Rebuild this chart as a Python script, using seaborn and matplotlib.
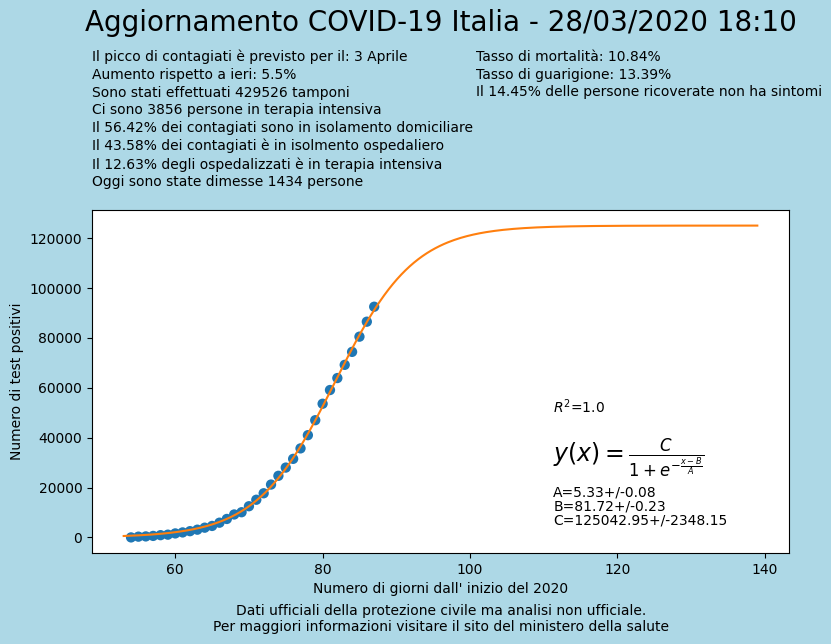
import numpy as np
import pandas as pd
import seaborn as sns
import matplotlib
matplotlib.use("Agg")
import matplotlib.pyplot as plt

# giorni dall'inizio del 2020 e casi totali
giorni = list(range(54, 88))
casi = [0, 300, 400, 600, 900, 1100, 1600, 2000, 2500, 3100, 3900, 4600, 5900, 7400,
        9200, 10100, 12500, 15100, 17700, 21200, 24700, 28000, 31500, 35700, 41000,
        47000, 53600, 59100, 63900, 69200, 74400, 80500, 86500, 92500]

# parametri del fit logistico
A, B, C = 5.33, 81.72, 125042.95

testo_sx = ["Il picco di contagiati è previsto per il: 3 Aprile",
            "Aumento rispetto a ieri: 5.5%",
            "Sono stati effettuati 429526 tamponi",
            "Ci sono 3856 persone in terapia intensiva",
            "Il 56.42% dei contagiati sono in isolamento domiciliare",
            "Il 43.58% dei contagiati è in isolmento ospedaliero",
            "Il 12.63% degli ospedalizzati è in terapia intensiva",
            "Oggi sono state dimesse 1434 persone"]
testo_dx = ["Tasso di mortalità: 10.84%",
            "Tasso di guarigione: 13.39%",
            "Il 14.45% delle persone ricoverate non ha sintomi"]

df = pd.DataFrame({"giorno": giorni, "casi": casi})
x_fit = np.linspace(53, 139, 300)
df_fit = pd.DataFrame({"giorno": x_fit, "casi": C / (1 + np.exp(-(x_fit - B) / A))})

fig = plt.figure(figsize=(8.31, 6.44), dpi=100, facecolor="lightblue")
ax = fig.add_axes([92 / 831, 1 - 553 / 644, 697 / 831, 343 / 644])
sns.scatterplot(data=df, x="giorno", y="casi", ax=ax, s=55, color="#1f77b4",
                edgecolor="none", zorder=2)
sns.lineplot(data=df_fit, x="giorno", y="casi", ax=ax, color="#ff7f0e", zorder=3)
ax.set_xlabel("Numero di giorni dall' inizio del 2020")
ax.set_ylabel("Numero di test positivi")

ax.text(111.3, 50000, "$R^2$=1.0", fontsize=10)
ax.text(111.3, 30500, r"$y(x)=\frac{C}{1+e^{-\frac{x-B}{A}}}$", fontsize=17)
ax.text(111.3, 5000, "A=5.33+/-0.08\nB=81.72+/-0.23\nC=125042.95+/-2348.15",
        fontsize=10, linespacing=1.0)

fig.text(441 / 831, 1 - 23 / 644, "Aggiornamento COVID-19 Italia - 28/03/2020 18:10",
         ha="center", va="center", fontsize=20)
fig.text(92 / 831, 1 - 50 / 644, "\n".join(testo_sx), va="top", fontsize=10, linespacing=1.33)
fig.text(476 / 831, 1 - 50 / 644, "\n".join(testo_dx), va="top", fontsize=10, linespacing=1.33)
fig.text(441 / 831, 1 - 611 / 644, "Dati ufficiali della protezione civile ma analisi non ufficiale.",
         ha="center", va="center", fontsize=10)
fig.text(441 / 831, 1 - 627 / 644, "Per maggiori informazioni visitare il sito del ministero della salute",
         ha="center", va="center", fontsize=10)

fig.savefig("out.png", dpi=100, facecolor="lightblue")
